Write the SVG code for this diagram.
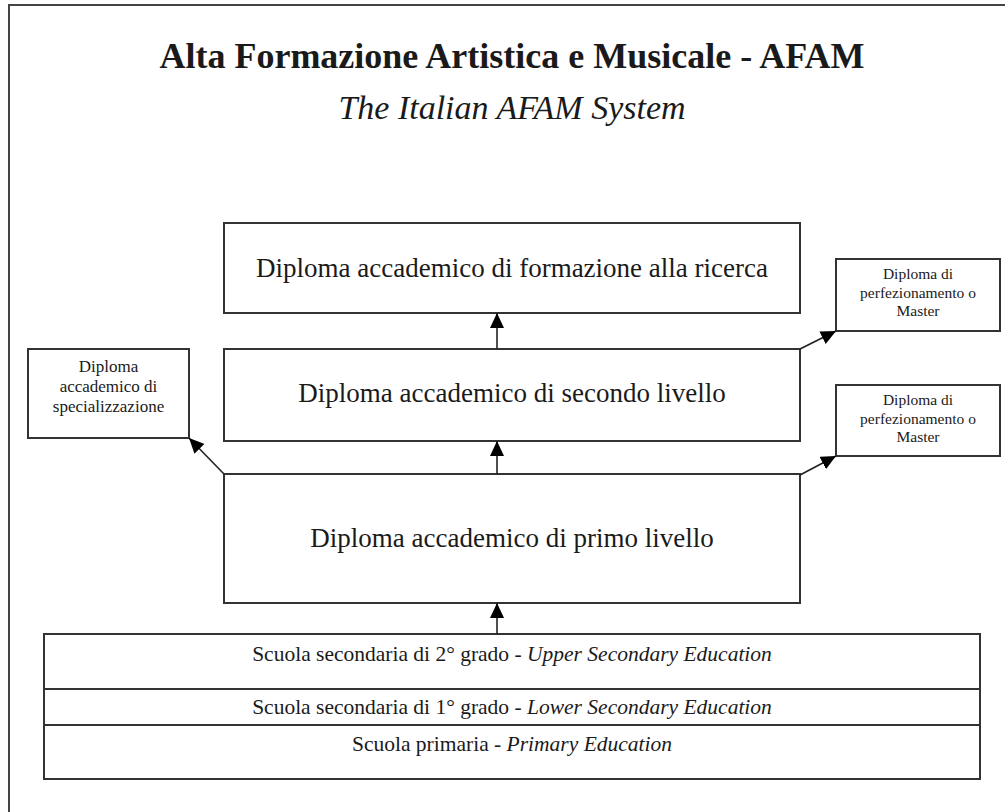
<svg xmlns="http://www.w3.org/2000/svg" width="1005" height="812" viewBox="0 0 1005 812">
<defs>
<style>
.box{fill:#fff;stroke:#333;stroke-width:2}
.frame{fill:none;stroke:#444;stroke-width:2}
.t{font-family:"Liberation Serif","Times New Roman",serif;fill:#1a1a1a;text-anchor:middle}
.big{font-size:27px}
.small{font-size:15.5px}
.mid{font-size:21.5px}
.conn{stroke:#222;stroke-width:1.6;fill:none;marker-end:url(#ah)}
</style>
<marker id="ah" viewBox="0 0 15 14" refX="15" refY="7" markerWidth="15" markerHeight="14" orient="auto" markerUnits="userSpaceOnUse">
<path d="M0,0 L15,7 L0,14 z" fill="#000"/>
</marker>
</defs>
<rect width="1005" height="812" fill="#fff"/>
<rect class="frame" x="9" y="5" width="1010" height="820"/>
<g id="title">
<text class="t" x="512" y="68" font-size="36" font-weight="bold">Alta Formazione Artistica e Musicale - AFAM</text>
<text class="t" x="512" y="119" font-size="34" font-style="italic">The Italian AFAM System</text>
</g>
<g id="ricerca">
<rect class="box" x="224" y="223" width="576" height="90"/>
<text class="t big" x="512" y="277">Diploma accademico di formazione alla ricerca</text>
</g>
<g id="secondo">
<rect class="box" x="224" y="349" width="576" height="92"/>
<text class="t big" x="512" y="402">Diploma accademico di secondo livello</text>
</g>
<g id="primo">
<rect class="box" x="224" y="474" width="576" height="129"/>
<text class="t big" x="512" y="547">Diploma accademico di primo livello</text>
</g>
<g id="specializzazione">
<rect class="box" x="28" y="349" width="161" height="89"/>
<text class="t" font-size="17" x="108.5" y="372">Diploma</text>
<text class="t" font-size="17" x="108.5" y="392">accademico di</text>
<text class="t" font-size="17" x="108.5" y="412">specializzazione</text>
</g>
<g id="master1">
<rect class="box" x="836" y="259" width="164" height="72"/>
<text class="t small" x="918" y="279">Diploma di</text>
<text class="t small" x="918" y="298">perfezionamento o</text>
<text class="t small" x="918" y="316">Master</text>
</g>
<g id="master2">
<rect class="box" x="836" y="385" width="164" height="71"/>
<text class="t small" x="918" y="405">Diploma di</text>
<text class="t small" x="918" y="424">perfezionamento o</text>
<text class="t small" x="918" y="442">Master</text>
</g>
<g id="scuola">
<rect class="box" x="44" y="634" width="936" height="145"/>
<line x1="44" y1="689" x2="980" y2="689" stroke="#333" stroke-width="2"/>
<line x1="44" y1="725" x2="980" y2="725" stroke="#333" stroke-width="2"/>
<text class="t mid" x="512" y="661">Scuola secondaria di 2° grado - <tspan font-style="italic">Upper Secondary Education</tspan></text>
<text class="t mid" x="512" y="714">Scuola secondaria di 1° grado - <tspan font-style="italic">Lower Secondary Education</tspan></text>
<text class="t mid" x="512" y="751">Scuola primaria - <tspan font-style="italic">Primary Education</tspan></text>
</g>
<g id="connectors">
<line class="conn" x1="497" y1="349" x2="497" y2="313"/>
<line class="conn" x1="497" y1="474" x2="497" y2="441"/>
<line class="conn" x1="497" y1="634" x2="497" y2="603"/>
<line class="conn" x1="224" y1="474" x2="189" y2="438"/>
<line class="conn" x1="800" y1="349" x2="836" y2="331"/>
<line class="conn" x1="800" y1="475" x2="836" y2="456"/>
</g>
</svg>
